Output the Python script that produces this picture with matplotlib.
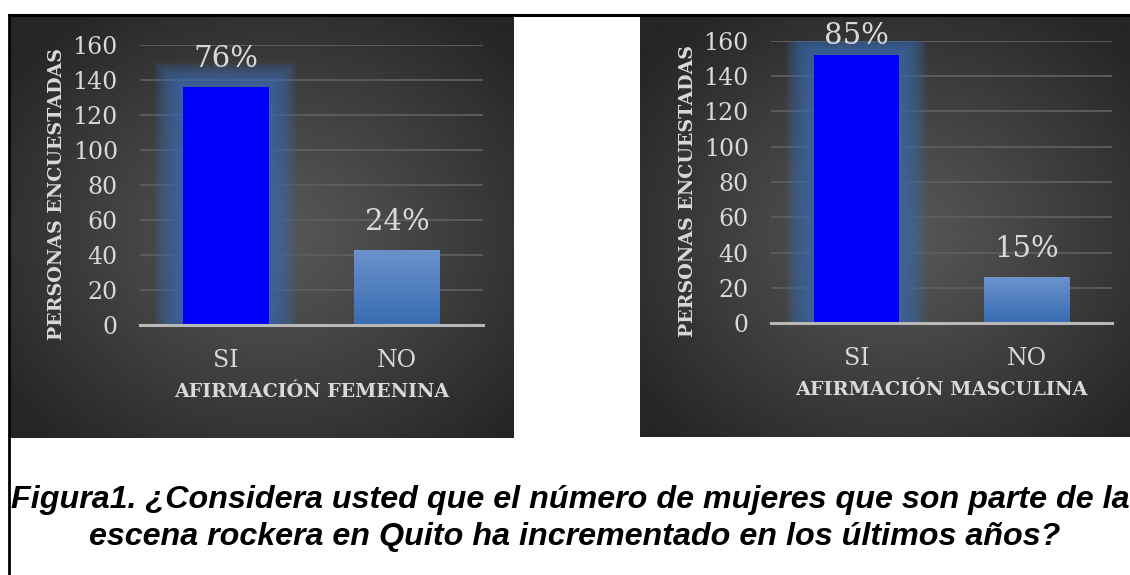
import numpy as np
import matplotlib
matplotlib.use('Agg')
import matplotlib.pyplot as plt
from matplotlib.lines import Line2D

# ---------------- data ----------------
categories = ['SI', 'NO']
fem_values = [136, 43]
masc_values = [152, 26]
fem_pct = ['76%', '24%']
masc_pct = ['85%', '15%']
yticks = [0, 20, 40, 60, 80, 100, 120, 140, 160]
ylabel_text = 'PERSONAS ENCUESTADAS'
fem_xlabel = 'AFIRMACIÓN FEMENINA'
masc_xlabel = 'AFIRMACIÓN MASCULINA'
caption_lines = ['Figura1. ¿Considera usted que el número de mujeres que son parte de la',
                 'escena rockera en Quito ha incrementado en los últimos años?']

plt.rcParams['font.family'] = ['DejaVu Serif']

# ---------------- figure ----------------
W, H = 1130, 575
fig = plt.figure(figsize=(W / 100, H / 100), dpi=100)
fig.patch.set_facecolor('white')

TXT = '#d9d9d9'


def fr(x0, y0, x1, y1):
    """pixel box (top-left origin) -> figure-fraction rect"""
    return [x0 / W, 1 - y1 / H, (x1 - x0) / W, (y1 - y0) / H]


def background(box):
    ax = fig.add_axes(fr(*box), zorder=0)
    ny, nx = 220, 260
    yy, xx = np.mgrid[0:1:ny * 1j, 0:1:nx * 1j]
    r = np.sqrt(((xx - 0.52) / 0.66) ** 2 + ((yy - 0.52) / 0.66) ** 2)
    r = np.clip(r, 0, 1) ** 1.1
    c0 = np.array([0x58, 0x58, 0x58]) / 255
    c1 = np.array([0x25, 0x25, 0x25]) / 255
    img = c0[None, None, :] * (1 - r[..., None]) + c1[None, None, :] * r[..., None]
    ax.imshow(img, extent=[0, 1, 0, 1], aspect='auto', interpolation='bilinear')
    ax.set_axis_off()


def fit_text(t, target_px, renderer):
    w = t.get_window_extent(renderer).width
    t.set_fontsize(t.get_fontsize() * target_px / w)


def chart(box, values, pcts, xlabel, ylab_px, ylab_len, xlab_y_px, xlab_len, renderer):
    x0, y0, x1, y1 = box
    axw, axh = x1 - x0, y1 - y0
    ax = fig.add_axes(fr(*box), zorder=2)
    ax.patch.set_alpha(0)
    n = len(categories)
    xs = np.arange(n)
    ax.set_xlim(-0.5, n - 0.5)
    ax.set_ylim(0, 160)
    dx = n / axw          # data units per pixel (x)
    dy = 160 / axh        # data units per pixel (y)
    bw = 0.5

    # gridlines
    ax.set_yticks(yticks)
    ax.grid(axis='y', color='#5e5e5e', lw=1.3, zorder=0.5)
    ax.set_axisbelow(True)
    for s in ['top', 'right', 'left']:
        ax.spines[s].set_visible(False)
    ax.spines['bottom'].set_color('#b8b8b8')
    ax.spines['bottom'].set_linewidth(2.2)
    ax.spines['bottom'].set_zorder(4)

    # glow behind first bar
    v0 = values[0]
    N = 16
    for k in range(1, N + 1):
        gx = 28 * k / N
        gy = 25 * k / N
        ax.bar(xs[0], v0 + gy * dy, width=bw + 2 * gx * dx, color='#3b6cb0',
               alpha=0.095, lw=0, zorder=1)

    # bars
    bars = ax.bar(xs, values, width=bw, color=['#0000ff', '#4a7ec0'], lw=0, zorder=3)
    # gradient on second bar
    b = bars[1]
    grad = np.linspace(0, 1, 100)[:, None]
    top_c = np.array([0x6b, 0x92, 0xcb]) / 255
    bot_c = np.array([0x38, 0x6c, 0xb3]) / 255
    gimg = top_c[None, None, :] * (1 - grad[..., None]) + bot_c[None, None, :] * grad[..., None]
    im = ax.imshow(gimg, extent=[b.get_x(), b.get_x() + b.get_width(), 0, b.get_height()],
                   aspect='auto', zorder=3.5, interpolation='bilinear')
    im.set_clip_path(b)

    # percentage labels
    for xi, v, p in zip(xs, values, pcts):
        ly = min(v + 28 * dy, 160 + 5 * dy)
        ax.text(xi, ly, p, ha='center', va='center', color=TXT, fontsize=21,
                clip_on=False, zorder=5)

    # ticks
    ax.set_xticks(xs, categories)
    ax.tick_params(axis='y', length=0, pad=16, labelsize=17, labelcolor=TXT)
    ax.tick_params(axis='x', length=0, pad=17, labelsize=17, labelcolor=TXT)

    # axis titles
    tx = ax.text(0.5, -(xlab_y_px - y1) / axh, xlabel, transform=ax.transAxes,
                 ha='center', va='center', color=TXT, fontsize=15.5, fontweight='bold')
    fit_text(tx, xlab_len, renderer)
    lx, ly = ylab_px
    ty = ax.text((lx - x0) / axw, (y1 - ly) / axh, ylabel_text, transform=ax.transAxes,
                 ha='center', va='center', color=TXT, fontsize=15.5, fontweight='bold')
    fit_text(ty, ylab_len, renderer)
    ty.set_rotation(90)
    return ax


renderer = fig.canvas.get_renderer()

# panel backgrounds
background((10, 16, 514, 438))
background((640, 16, 1130, 437))

chart((140, 45, 483, 325), fem_values, fem_pct, fem_xlabel, (57, 194), 292, 392, 276, renderer)
chart((771, 41, 1112, 323), masc_values, masc_pct, masc_xlabel, (688, 191), 292, 390, 292, renderer)

# page border lines
fig.add_artist(Line2D([9 / W, 9 / W], [1 - 15 / H, 0], color='black', lw=2))
fig.add_artist(Line2D([9 / W, 1], [1 - 15 / H, 1 - 15 / H], color='black', lw=2.2))

# caption, fitted to the reference width
cap_family = ['Liberation Sans', 'DejaVu Sans']
t1 = fig.text(570 / W, 1 - 500 / H, caption_lines[0], ha='center', va='center',
              fontsize=20, style='italic', fontweight='bold', family=cap_family)
fit_text(t1, 1118, renderer)
fig.text(575 / W, 1 - 537 / H, caption_lines[1], ha='center', va='center',
         fontsize=t1.get_fontsize(), style='italic', fontweight='bold', family=cap_family)

fig.savefig('out.png', dpi=100, facecolor='white')
